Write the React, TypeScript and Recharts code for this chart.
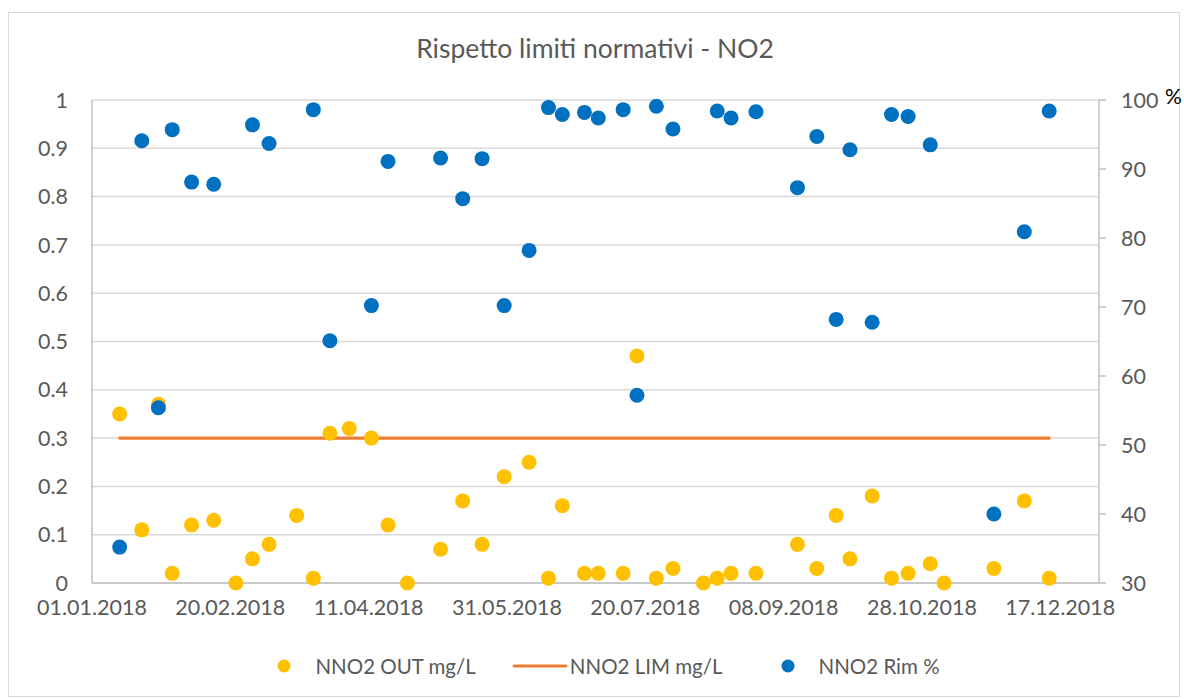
import React from "react";
import {
  ComposedChart,
  Line,
  Scatter,
  XAxis,
  YAxis,
  CartesianGrid,
  Legend,
} from "recharts";

// sampling dates (dd.mm.yyyy)
const dates = [
  "11.01.2018", "19.01.2018", "25.01.2018", "30.01.2018", "06.02.2018",
  "14.02.2018", "22.02.2018", "28.02.2018", "06.03.2018", "16.03.2018",
  "22.03.2018", "28.03.2018", "04.04.2018", "12.04.2018", "18.04.2018",
  "25.04.2018", "07.05.2018", "15.05.2018", "22.05.2018", "30.05.2018",
  "08.06.2018", "15.06.2018", "20.06.2018", "28.06.2018", "03.07.2018",
  "12.07.2018", "17.07.2018", "24.07.2018", "30.07.2018", "10.08.2018",
  "15.08.2018", "20.08.2018", "29.08.2018", "13.09.2018", "20.09.2018",
  "27.09.2018", "02.10.2018", "10.10.2018", "17.10.2018", "23.10.2018",
  "31.10.2018", "05.11.2018", "23.11.2018", "04.12.2018", "13.12.2018",
];

// NNO2 OUT mg/L
const nno2Out = [
  0.35, 0.11, 0.37, 0.02, 0.12,
  0.13, 0.0, 0.05, 0.08, 0.14,
  0.01, 0.31, 0.32, 0.3, 0.12,
  0.0, 0.07, 0.17, 0.08, 0.22,
  0.25, 0.01, 0.16, 0.02, 0.02,
  0.02, 0.47, 0.01, 0.03, 0.0,
  0.01, 0.02, 0.02, 0.08, 0.03,
  0.14, 0.05, 0.18, 0.01, 0.02,
  0.04, 0.0, 0.03, 0.17, 0.01,
];

// NNO2 LIM mg/L
const nno2Lim = [
  0.3, 0.3, 0.3, 0.3, 0.3, 0.3, 0.3, 0.3, 0.3, 0.3,
  0.3, 0.3, 0.3, 0.3, 0.3, 0.3, 0.3, 0.3, 0.3, 0.3,
  0.3, 0.3, 0.3, 0.3, 0.3, 0.3, 0.3, 0.3, 0.3, 0.3,
  0.3, 0.3, 0.3, 0.3, 0.3, 0.3, 0.3, 0.3, 0.3, 0.3,
  0.3, 0.3, 0.3, 0.3, 0.3,
];

// NNO2 Rim % (null = no value)
const nno2Rim = [
  35.2, 94.1, 55.4, 95.7, 88.1,
  87.8, null, 96.4, 93.7, null,
  98.6, 65.1, null, 70.2, 91.1,
  null, 91.6, 85.7, 91.5, 70.2,
  78.2, 98.9, 97.9, 98.2, 97.4,
  98.6, 57.2, 99.1, 95.8, null,
  98.4, 97.4, 98.3, 87.3, 94.7,
  68.2, 92.8, 67.8, 97.9, 97.6,
  93.5, null, 40.0, 80.9, 98.4,
];

const xTickLabels = [
  "01.01.2018", "20.02.2018", "11.04.2018", "31.05.2018",
  "20.07.2018", "08.09.2018", "28.10.2018", "17.12.2018",
];
const xDomainLabels = ["01.01.2018", "31.12.2018"];
const leftTicks = [0, 0.1, 0.2, 0.3, 0.4, 0.5, 0.6, 0.7, 0.8, 0.9, 1];
const rightTicks = [30, 40, 50, 60, 70, 80, 90, 100];

const DAY = 86400000;
const BASE = Date.UTC(2018, 0, 1);

function dayOf(s: string) {
  const [d, m, y] = s.split(".").map(Number);
  return (Date.UTC(y, m - 1, d) - BASE) / DAY;
}

function fmtDay(v: number) {
  const dt = new Date(BASE + v * DAY);
  const dd = String(dt.getUTCDate()).padStart(2, "0");
  const mm = String(dt.getUTCMonth() + 1).padStart(2, "0");
  return `${dd}.${mm}.${dt.getUTCFullYear()}`;
}

const rows = dates.map((d, i) => ({
  t: dayOf(d),
  out: nno2Out[i],
  lim: nno2Lim[i],
  rim: nno2Rim[i],
}));
const outPoints = rows.filter((r) => r.out != null);
const rimPoints = rows.filter((r) => r.rim != null);

const FONT = "Lato, 'Noto Sans', sans-serif";
const TEXT = "#595959";
const YELLOW = "#FFC000";
const ORANGE = "#ED7D31";
const BLUE = "#0070C0";
const TICK = { fill: TEXT, fontSize: 21.5, fontFamily: FONT };

const dot = (color: string) => (props: any) =>
  <circle cx={props.cx} cy={props.cy} r={7.5} fill={color} />;

function LegendBox() {
  const item = { display: "flex", alignItems: "center", whiteSpace: "nowrap" } as const;
  return (
    <div
      style={{
        height: 66,
        display: "flex",
        justifyContent: "center",
        alignItems: "center",
        fontFamily: FONT,
        fontSize: 20.5,
        color: TEXT,
        paddingLeft: 53,
      }}
    >
      <div style={{ ...item, marginRight: 36 }}>
        <svg width={14} height={14} style={{ marginRight: 24 }}>
          <circle cx={7} cy={7} r={6.5} fill={YELLOW} />
        </svg>
        NNO2 OUT mg/L
      </div>
      <div style={{ ...item, marginRight: 58 }}>
        <svg width={56} height={10} style={{ marginRight: 2 }}>
          <line x1={2} y1={5} x2={54} y2={5} stroke={ORANGE} strokeWidth={3} strokeLinecap="round" />
        </svg>
        NNO2 LIM mg/L
      </div>
      <div style={item}>
        <svg width={14} height={14} style={{ marginRight: 24 }}>
          <circle cx={7} cy={7} r={6.5} fill={BLUE} />
        </svg>
        NNO2 Rim %
      </div>
    </div>
  );
}

export default function App() {
  return (
    <div style={{ position: "absolute", left: 0, top: 0, width: 1184, height: 699, background: "#fff" }}>
      <div
        style={{
          position: "absolute",
          left: 8,
          top: 12,
          width: 1170,
          height: 683,
          border: "1px solid #d9d9d9",
        }}
      />
      <div
        style={{
          position: "absolute",
          left: 0,
          top: 32,
          width: 1190,
          textAlign: "center",
          fontFamily: FONT,
          fontSize: 26.5,
          color: TEXT,
        }}
      >
        Rispetto limiti normativi - NO2
      </div>
      <ComposedChart
        width={1184}
        height={699}
        data={rows}
        margin={{ top: 100, right: 20, bottom: 0, left: 0 }}
      >
        <CartesianGrid yAxisId="left" vertical={false} stroke="#d9d9d9" strokeWidth={1.5} />
        <XAxis
          dataKey="t"
          type="number"
          domain={xDomainLabels.map(dayOf)}
          ticks={xTickLabels.map(dayOf)}
          tickFormatter={fmtDay}
          tickLine={false}
          tickMargin={11}
          height={50}
          stroke="#bfbfbf"
          strokeWidth={1.5}
          tick={TICK}
          allowDataOverflow
        />
        <YAxis
          yAxisId="left"
          domain={[0, 1]}
          ticks={leftTicks}
          width={92}
          tickLine={false}
          tickSize={0}
          tickMargin={24}
          stroke="#bfbfbf"
          strokeWidth={1.5}
          tick={TICK}
        />
        <YAxis
          yAxisId="right"
          orientation="right"
          domain={[30, 100]}
          ticks={rightTicks}
          width={65}
          tickSize={7}
          tickMargin={15}
          stroke="#bfbfbf"
          strokeWidth={1.5}
          tick={TICK}
          label={{
            content: (p: any) => (
              <text
                x={p.viewBox.x + 66}
                y={p.viewBox.y + 4}
                fontSize={21}
                fontFamily={FONT}
                fill="#000"
              >
                %
              </text>
            ),
          }}
        />
        <Legend verticalAlign="bottom" content={() => <LegendBox />} />
        <Line
          yAxisId="left"
          dataKey="lim"
          name="NNO2 LIM mg/L"
          stroke={ORANGE}
          strokeWidth={3.2}
          strokeLinecap="round"
          dot={false}
          activeDot={false}
          isAnimationActive={false}
        />
        <Scatter
          yAxisId="left"
          data={outPoints}
          dataKey="out"
          name="NNO2 OUT mg/L"
          fill={YELLOW}
          shape={dot(YELLOW)}
          isAnimationActive={false}
        />
        <Scatter
          yAxisId="right"
          data={rimPoints}
          dataKey="rim"
          name="NNO2 Rim %"
          fill={BLUE}
          shape={dot(BLUE)}
          isAnimationActive={false}
        />
      </ComposedChart>
    </div>
  );
}
